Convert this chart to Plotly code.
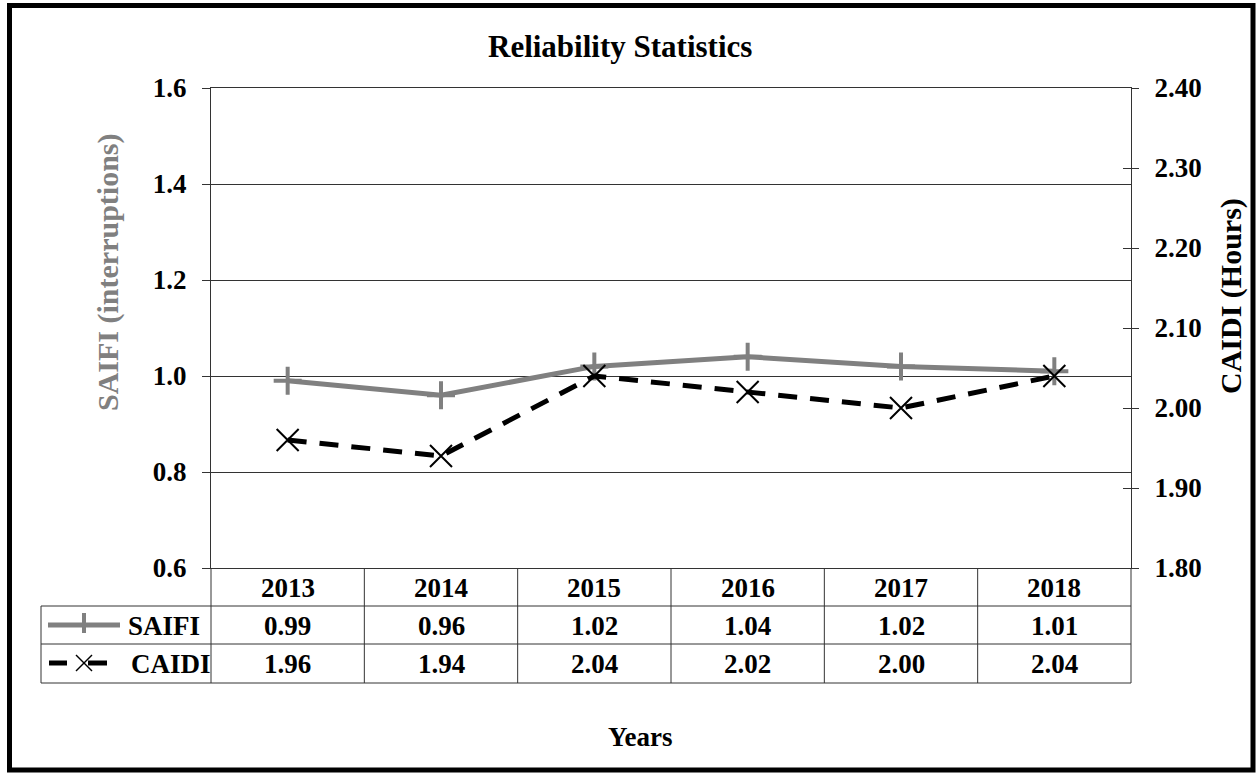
import plotly.graph_objects as go

# ---- data ----
years = ["2013", "2014", "2015", "2016", "2017", "2018"]
saifi = [0.99, 0.96, 1.02, 1.04, 1.02, 1.01]
caidi = [1.96, 1.94, 2.04, 2.02, 2.00, 2.04]
left_ticks = [0.6, 0.8, 1.0, 1.2, 1.4, 1.6]
right_ticks = [1.80, 1.90, 2.00, 2.10, 2.20, 2.30, 2.40]

FW, FH = 1257, 773
L, R, T, B = 211, 1131, 88, 568
W, H = R - L, B - T
FONT = "Liberation Serif"
GRAY = "#808080"
LINEC = "#333333"


def px(X):
    return (X - L) / W


def py(Y):
    return (B - Y) / H


fig = go.Figure()
fig.add_trace(go.Scatter(
    x=years, y=saifi, name="SAIFI", mode="lines+markers",
    line=dict(color=GRAY, width=5),
    marker=dict(symbol="cross-thin", size=20, line=dict(color=GRAY, width=4)),
    cliponaxis=False, showlegend=False))
fig.add_trace(go.Scatter(
    x=years, y=caidi, name="CAIDI", mode="lines+markers", yaxis="y2",
    line=dict(color="black", width=5, dash="19px,13px"),
    marker=dict(symbol="x-thin", size=22, line=dict(color="black", width=2)),
    cliponaxis=False, showlegend=False))
# empty trace to carry the inner right-side ticks
fig.add_trace(go.Scatter(x=years, y=[None] * len(years), yaxis="y3",
                         showlegend=False, hoverinfo="skip"))

tickfont = dict(family=FONT, size=27, color="black", weight="bold")

fig.update_layout(
    width=FW, height=FH,
    margin=dict(l=L, r=FW - R, t=T, b=FH - B, pad=0),
    paper_bgcolor="white", plot_bgcolor="white",
    font=dict(family=FONT, color="black"),
    xaxis=dict(type="category", categoryorder="array", categoryarray=years,
               range=[-0.5, len(years) - 0.5], autorange=False,
               showticklabels=False, ticks="",
               showgrid=False, showline=True, mirror=True,
               linecolor=LINEC, linewidth=1, zeroline=False),
    yaxis=dict(range=[0.6, 1.6], autorange=False, tickvals=left_ticks,
               tickformat=".1f",
               ticks="outside", ticklen=8, tickcolor=LINEC, tickwidth=1,
               showline=True, linecolor=LINEC, linewidth=1,
               showgrid=True, gridcolor=LINEC, gridwidth=1,
               zeroline=False, tickfont=tickfont, ticklabelstandoff=10),
    yaxis2=dict(range=[1.8, 2.4], autorange=False, tickvals=right_ticks,
                tickformat=".2f",
                overlaying="y", side="right",
                ticks="outside", ticklen=7, tickcolor=LINEC, tickwidth=1,
                showline=True, linecolor=LINEC, linewidth=1,
                showgrid=False, zeroline=False, tickfont=tickfont,
                ticklabelstandoff=10),
    yaxis3=dict(range=[1.8, 2.4], autorange=False, tickvals=right_ticks,
                overlaying="y",
                side="right", ticks="inside", ticklen=8, tickcolor=LINEC,
                tickwidth=1, showticklabels=False, showgrid=False,
                zeroline=False, showline=False),
)

shapes = []
ann = []

# outer border
shapes.append(dict(type="rect", xref="paper", yref="paper",
                   x0=px(9.5), x1=px(1253), y0=py(5.5), y1=py(770),
                   line=dict(color="black", width=5), fillcolor="rgba(0,0,0,0)"))

# data table grid
row_lines = [606, 644, 683]
for Y in row_lines:
    shapes.append(dict(type="line", xref="paper", yref="paper",
                       x0=px(41), x1=1, y0=py(Y), y1=py(Y),
                       line=dict(color=LINEC, width=1)))
shapes.append(dict(type="line", xref="paper", yref="paper",
                   x0=px(41), x1=px(41), y0=py(606), y1=py(683),
                   line=dict(color=LINEC, width=1)))
for xv in [0, 1]:
    shapes.append(dict(type="line", xref="paper", yref="paper",
                       x0=xv, x1=xv, y0=0, y1=py(683),
                       line=dict(color=LINEC, width=1)))
for i in range(1, len(years)):
    shapes.append(dict(type="line", xref="x", yref="paper",
                       x0=i - 0.5, x1=i - 0.5, y0=0, y1=py(683),
                       line=dict(color=LINEC, width=1)))

cellfont = dict(family=FONT, size=27, color="black", weight="bold")
for i, (yr, s, c) in enumerate(zip(years, saifi, caidi)):
    ann.append(dict(x=i, xref="x", y=py(588), yref="paper", text=yr,
                    showarrow=False, font=cellfont, yanchor="middle"))
    ann.append(dict(x=i, xref="x", y=py(626), yref="paper", text=f"{s:.2f}",
                    showarrow=False, font=cellfont, yanchor="middle"))
    ann.append(dict(x=i, xref="x", y=py(664), yref="paper", text=f"{c:.2f}",
                    showarrow=False, font=cellfont, yanchor="middle"))

# legend keys inside the table
shapes.append(dict(type="line", xref="paper", yref="paper",
                   x0=px(48), x1=px(120), y0=py(625), y1=py(625),
                   line=dict(color=GRAY, width=5)))
shapes.append(dict(type="line", xref="paper", yref="paper",
                   x0=px(84), x1=px(84), y0=py(613), y1=py(633),
                   line=dict(color=GRAY, width=4)))
for a, b in [(49, 67), (88, 107)]:
    shapes.append(dict(type="line", xref="paper", yref="paper",
                       x0=px(a), x1=px(b), y0=py(663), y1=py(663),
                       line=dict(color="black", width=5)))
shapes.append(dict(type="line", xref="paper", yref="paper",
                   x0=px(76), x1=px(92), y0=py(655), y1=py(671),
                   line=dict(color="black", width=1.5)))
shapes.append(dict(type="line", xref="paper", yref="paper",
                   x0=px(76), x1=px(92), y0=py(671), y1=py(655),
                   line=dict(color="black", width=1.5)))
ann.append(dict(x=px(126), y=py(626), xref="paper", yref="paper", text="SAIFI",
                showarrow=False, xanchor="left", yanchor="middle", font=cellfont))
ann.append(dict(x=px(129), y=py(664), xref="paper", yref="paper", text="CAIDI",
                showarrow=False, xanchor="left", yanchor="middle", font=cellfont))

# titles
ann.append(dict(x=px(620), y=py(46), xref="paper", yref="paper",
                text="Reliability Statistics", showarrow=False,
                font=dict(family=FONT, size=31, color="black", weight="bold"),
                xanchor="center", yanchor="middle"))
ann.append(dict(x=px(640), y=py(737), xref="paper", yref="paper",
                text="Years", showarrow=False,
                font=dict(family=FONT, size=27, color="black", weight="bold"),
                xanchor="center", yanchor="middle"))
ann.append(dict(x=px(108), y=py(272), xref="paper", yref="paper",
                text="SAIFI (interruptions)", showarrow=False, textangle=-90,
                font=dict(family=FONT, size=30, color=GRAY, weight="bold"),
                xanchor="center", yanchor="middle"))
ann.append(dict(x=px(1231), y=py(296), xref="paper", yref="paper",
                text="CAIDI (Hours)", showarrow=False, textangle=-90,
                font=dict(family=FONT, size=30, color="black", weight="bold"),
                xanchor="center", yanchor="middle"))

fig.update_layout(shapes=shapes, annotations=ann)
fig.write_html("out.html")
